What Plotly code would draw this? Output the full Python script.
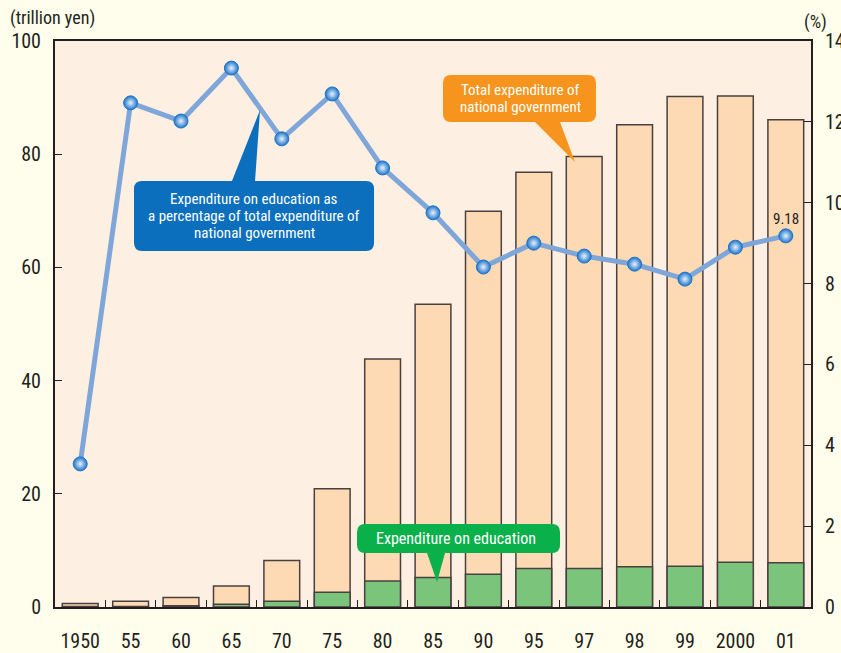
import plotly.graph_objects as go

# Data
years = ["1950", "55", "60", "65", "70", "75", "80", "85", "90", "95", "97", "98", "99", "2000", "01"]
total_expenditure = [0.6, 1.0, 1.7, 3.7, 8.2, 20.9, 43.8, 53.5, 69.9, 76.8, 79.6, 85.2, 90.2, 90.3, 86.1]
education_expenditure = [0.1, 0.1, 0.2, 0.5, 1.0, 2.6, 4.6, 5.2, 5.8, 6.8, 6.8, 7.1, 7.2, 7.9, 7.8]
education_share = [3.54, 12.47, 12.02, 13.33, 11.58, 12.69, 10.86, 9.75, 8.41, 9.0, 8.68, 8.48, 8.11, 8.9, 9.18]

FONT = "Liberation Sans Narrow, Roboto Condensed, Arial Narrow, sans-serif"
TEXT = "#231F20"

# plot area in pixels (for placing callouts)
L, R, T, B = 55, 811, 41, 607


def px(x, y):
    return (x - L) / (R - L), (B - y) / (B - T)


def callout_path(x0, y0, x1, y1, pointer, r=8):
    """Rounded box with a pointer; pointer = (side, base_a, base_b, tip_x, tip_y)."""
    side, a, b, tx, ty = pointer
    pts = []
    pts.append(("M", x0 + r, y0))
    if side == "top":
        pts += [("L", a, y0), ("L", tx, ty), ("L", b, y0)]
    pts.append(("L", x1 - r, y0))
    pts.append(("Q", x1, y0, x1, y0 + r))
    pts.append(("L", x1, y1 - r))
    pts.append(("Q", x1, y1, x1 - r, y1))
    if side == "bottom":
        pts += [("L", b, y1), ("L", tx, ty), ("L", a, y1)]
    pts.append(("L", x0 + r, y1))
    pts.append(("Q", x0, y1, x0, y1 - r))
    pts.append(("L", x0, y0 + r))
    pts.append(("Q", x0, y0, x0 + r, y0))
    out = []
    for p in pts:
        cmd = p[0]
        coords = p[1:]
        s = []
        for i in range(0, len(coords), 2):
            u, v = px(coords[i], coords[i + 1])
            s.append(f"{u:.4f},{v:.4f}")
        out.append(cmd + " ".join(s))
    return " ".join(out) + " Z"


def label(x, y, text, size=16, color="white", anchor="center"):
    u, _ = px(x, 0)
    _, v = px(0, y)
    return dict(xref="paper", yref="paper", x=u, y=v, xanchor=anchor, yanchor="middle",
                text=text, showarrow=False, font=dict(family=FONT, size=size, color=color))


fig = go.Figure()

fig.add_trace(go.Bar(
    x=years, y=total_expenditure, name="Total expenditure of national government",
    marker=dict(color="#FDDAB4", line=dict(color="#4A4040", width=1.5)),
    width=0.71,
))
fig.add_trace(go.Bar(
    x=years, y=education_expenditure, name="Expenditure on education",
    marker=dict(color="#7BC47B", line=dict(color="#4A4040", width=1.5)),
    width=0.71,
))
fig.add_trace(go.Scatter(
    x=years, y=education_share, yaxis="y2", mode="lines+markers",
    line=dict(color="#7EA6D9", width=5),
    marker=dict(size=14, color="#1F74C8", line=dict(color="#1F74C8", width=1),
                gradient=dict(type="radial", color="#E6F2FF")),
))

shapes = []
annotations = []

# blue callout
shapes.append(dict(type="path", xref="paper", yref="paper", line=dict(width=0), fillcolor="#0B6FBE",
                   path=callout_path(134, 181, 374, 251, ("top", 232, 255, 260, 110))))
for i, line in enumerate(["Expenditure on education as",
                          "a percentage of total expenditure of",
                          "national government"]):
    annotations.append(label(254, 199 + 17 * i, line, size=15))
# orange callout
shapes.append(dict(type="path", xref="paper", yref="paper", line=dict(width=0), fillcolor="#F7941D",
                   path=callout_path(443, 75, 596, 122, ("bottom", 535, 560, 575, 162))))
for i, line in enumerate(["Total expenditure of", "national government"]):
    annotations.append(label(520, 90 + 17 * i, line, size=15))
# green callout
shapes.append(dict(type="path", xref="paper", yref="paper", line=dict(width=0), fillcolor="#0AB04A",
                   path=callout_path(357, 524, 560, 553, ("bottom", 427, 445, 437, 582))))
annotations.append(label(456, 538, "Expenditure on education"))

# value label on the last point
annotations.append(dict(x=len(years) - 1, y=education_share[-1], xref="x", yref="y2",
                        text=f"{education_share[-1]:.2f}", showarrow=False, yshift=17,
                        font=dict(family=FONT, size=15, color=TEXT)))
# axis titles
annotations.append(label(8, 18, "(trillion yen)", size=18, color=TEXT, anchor="left"))
annotations.append(label(815, 22, "(%)", size=18, color=TEXT))

fig.update_layout(
    width=841, height=653,
    margin=dict(l=L, r=841 - R, t=T, b=653 - B),
    paper_bgcolor="#FFFDEB",
    plot_bgcolor="#FDEFE2",
    barmode="overlay",
    showlegend=False,
    font=dict(family=FONT, color=TEXT),
    xaxis=dict(
        type="category", tickson="boundaries", ticks="inside", ticklen=7, tickcolor="#231F20",
        showline=True, linecolor="#231F20", linewidth=2, mirror=True, automargin=False,
        showgrid=False, tickfont=dict(size=20), tickangle=0, ticklabelstandoff=15,
        range=[-0.5, 14.5],
    ),
    yaxis=dict(
        range=[0, 100], dtick=20, ticks="inside", ticklen=7, tickcolor="#231F20",
        showline=True, linecolor="#231F20", linewidth=2, automargin=False,
        showgrid=False, zeroline=False, tickfont=dict(size=20), ticklabelstandoff=8,
    ),
    yaxis2=dict(
        range=[0, 14], dtick=2, overlaying="y", side="right", ticks="inside", ticklen=7,
        tickcolor="#231F20", showline=True, linecolor="#231F20", linewidth=2, automargin=False,
        showgrid=False, zeroline=False, tickfont=dict(size=20), ticklabelstandoff=8,
    ),
    shapes=shapes,
    annotations=annotations,
)

# drop the page's default body margin so the figure sits at the window corner
fig.write_html("out.html", config={"displayModeBar": False},
               post_script="document.body.style.margin = '0';")
